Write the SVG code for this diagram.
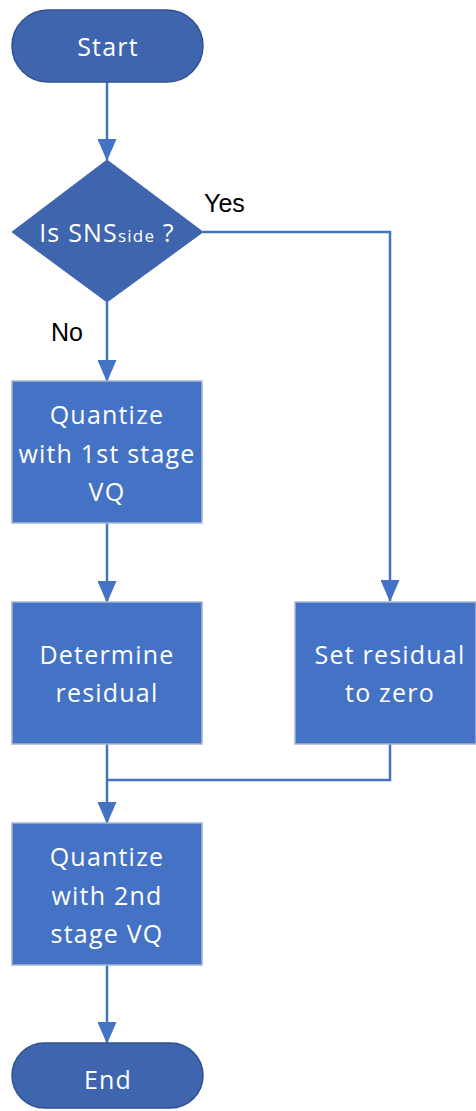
<svg xmlns="http://www.w3.org/2000/svg" width="476" height="1111" viewBox="0 0 476 1111">
<style>
.term{fill:#3E65AD;stroke:#2F528F;stroke-width:1.5}
.dec{fill:#3E65AD;stroke:#3E65AD;stroke-width:1}
.proc{fill:#4472C4;stroke:#A5B5CF;stroke-width:1.5}
.wt{fill:#FFFFFF;font-family:"Open Sans","Noto Sans",sans-serif;font-size:25px;text-anchor:middle;letter-spacing:1.2px}
.lbl{fill:#000000;font-family:"Liberation Sans",Arial,sans-serif;font-size:25px}
.con{fill:none;stroke:#4472C4;stroke-width:2.5}
</style>
<defs>
<marker id="arr" viewBox="0 0 22 19" refX="21" refY="9.5" markerWidth="22" markerHeight="19" markerUnits="userSpaceOnUse" orient="auto">
<path d="M0,0 L22,9.5 L0,19 Z" fill="#4472C4"/>
</marker>
</defs>
<g id="connectors">
<line class="con" x1="107" y1="82" x2="107" y2="160" marker-end="url(#arr)"/>
<polyline class="con" points="203,232 390,232 390,601" marker-end="url(#arr)"/>
<line class="con" x1="107" y1="302" x2="107" y2="381" marker-end="url(#arr)"/>
<line class="con" x1="107" y1="523" x2="107" y2="602" marker-end="url(#arr)"/>
<polyline class="con" points="390,744 390,780 107,780"/>
<line class="con" x1="107" y1="744" x2="107" y2="823" marker-end="url(#arr)"/>
<line class="con" x1="107" y1="965" x2="107" y2="1043" marker-end="url(#arr)"/>
</g>
<g id="start">
<rect class="term" x="12" y="10" width="191" height="72" rx="36" ry="36"/>
<text class="wt" x="108" y="56">Start</text>
</g>
<g id="decision">
<polygon class="dec" points="107,160 203,232 107,302 12,232"/>
<text class="wt" x="107" y="242"><tspan>Is SNS</tspan><tspan font-size="17">side</tspan><tspan> ?</tspan></text>
</g>
<g id="label-yes"><text class="lbl" x="204" y="212">Yes</text></g>
<g id="label-no"><text class="lbl" x="51" y="341">No</text></g>
<g id="q1">
<rect class="proc" x="12" y="381" width="190" height="142"/>
<text class="wt" x="107" y="424">Quantize</text>
<text class="wt" x="107" y="463">with 1st stage</text>
<text class="wt" x="107" y="501">VQ</text>
</g>
<g id="det">
<rect class="proc" x="12" y="602" width="190" height="142"/>
<text class="wt" x="107" y="664">Determine</text>
<text class="wt" x="107" y="702">residual</text>
</g>
<g id="setzero">
<rect class="proc" x="295" y="602" width="181" height="142"/>
<text class="wt" x="390" y="664">Set residual</text>
<text class="wt" x="390" y="702">to zero</text>
</g>
<g id="q2">
<rect class="proc" x="12" y="823" width="190" height="142"/>
<text class="wt" x="107" y="866">Quantize</text>
<text class="wt" x="107" y="905">with 2nd</text>
<text class="wt" x="107" y="943">stage VQ</text>
</g>
<g id="end">
<rect class="term" x="12" y="1043" width="191" height="65" rx="32.5" ry="32.5"/>
<text class="wt" x="108" y="1089">End</text>
</g>
</svg>
